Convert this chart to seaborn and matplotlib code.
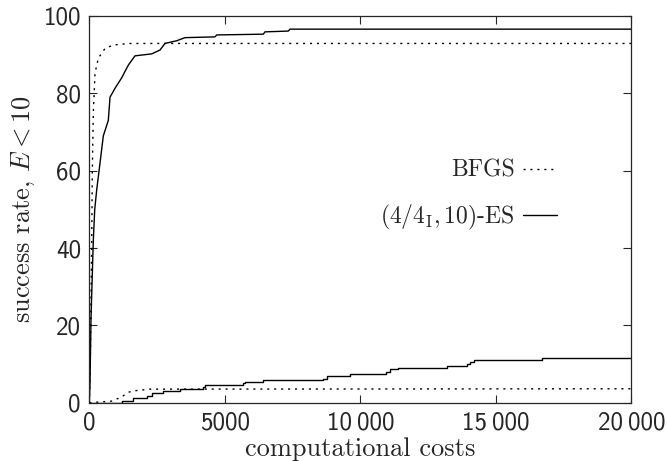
import matplotlib
matplotlib.use('Agg')
import matplotlib.pyplot as plt
import seaborn as sns


# upper pair of curves
bfgs_cost = [0, 30, 87, 111, 148, 210, 332, 579, 886, 1500, 20000]
bfgs_rate = [0, 8, 40, 60, 75, 85.2, 89.1, 91.6, 92.5, 92.9, 92.9]

es_cost = [0, 26, 63, 148, 200, 272, 395, 517, 701, 764, 948, 1194, 1440, 1686,
           2302, 2609, 2793, 3225, 3531, 4638, 4700, 6421, 6483, 7343, 7406, 20000]
es_rate = [0, 5, 22, 42, 50, 55, 62, 69, 73, 79, 81.3, 84, 87.3, 89.7,
           90.2, 91.2, 92.9, 93.6, 94.4, 94.6, 95.1, 95.3, 95.9, 96.1, 96.6, 96.6]

# lower pair of curves
bfgs_low_cost = [0, 826, 1195, 1440, 1686, 2240, 20000]
bfgs_low_rate = [0, 0.4, 1.5, 2.7, 3.1, 3.5, 3.6]

es_low_cost = [0, 1195, 1625, 2117, 2301, 2732, 3347, 4208, 4270, 5684, 5745, 6422,
               8636, 8759, 9620, 10948, 11096, 11402, 13188, 13925, 14048, 14195,
               16716, 20000]
es_low_rate = [0, 0.4, 1.1, 1.7, 2.6, 3.1, 3.6, 4.1, 4.6, 5.0, 5.3, 5.9,
               6.2, 6.9, 7.4, 8.0, 8.6, 9.0, 9.6, 10.0, 10.4, 11.0,
               11.5, 11.5]

x_ticks = [0, 5000, 10000, 15000, 20000]
x_tick_labels = ['0', '5000', '10\u2009000', '15\u2009000', '20\u2009000']
y_ticks = [0, 20, 40, 60, 80, 100]

sns.set_style('ticks', {'xtick.direction': 'in', 'ytick.direction': 'in'})
plt.rcParams['font.family'] = ['cmr10', 'DejaVu Serif']
plt.rcParams['mathtext.fontset'] = 'cm'
plt.rcParams['axes.formatter.use_mathtext'] = True

fig = plt.figure(figsize=(6.67, 4.61), dpi=100)
ax = fig.add_axes([0.1339, 0.1265, 0.9465 - 0.1339, 0.9653 - 0.1265])

dots = (0, (1.5, 3.5))
lw = 1.0

sns.lineplot(x=bfgs_cost, y=bfgs_rate, ax=ax, color='black', lw=lw, linestyle=dots,
             estimator=None, sort=False, label='BFGS')
sns.lineplot(x=es_cost, y=es_rate, ax=ax, color='black', lw=lw,
             estimator=None, sort=False, label=r'$(4/4_{\mathrm{I}}, 10)$-ES')
sns.lineplot(x=bfgs_low_cost, y=bfgs_low_rate, ax=ax, color='black', lw=lw, linestyle=dots,
             estimator=None, sort=False)
sns.lineplot(x=es_low_cost, y=es_low_rate, ax=ax, color='black', lw=lw,
             drawstyle='steps-post', estimator=None, sort=False)

ax.set_xlim(0, 20000)
ax.set_ylim(0, 100)
sans = ['cmss10', 'DejaVu Sans']
ax.set_xticks(x_ticks)
ax.set_xticklabels(x_tick_labels, family=sans)
ax.set_yticks(y_ticks)
ax.set_yticklabels([str(v) for v in y_ticks], family=sans)
ax.tick_params(axis='both', which='both', direction='in', top=True, right=True,
               length=6, width=0.8, labelsize=18, pad=6)
for sp in ax.spines.values():
    sp.set_linewidth(0.9)

ax.set_xlabel('computational costs', fontsize=19, labelpad=2)
ax.set_ylabel(r'success rate, $E < 10$', fontsize=19, labelpad=5)

handles = ax.lines[:2]
ax.legend(handles=handles, labels=['BFGS', r'$(4/4_{\mathrm{I}}, 10)$-ES'],
          markerfirst=False, frameon=False, fontsize=17, loc='center right',
          bbox_to_anchor=(557 / 667, 1 - 196 / 461), bbox_transform=fig.transFigure,
          borderpad=0, borderaxespad=0, handlelength=1.45, handletextpad=0.35,
          labelspacing=0.9)

plt.savefig('out.png', dpi=100)
